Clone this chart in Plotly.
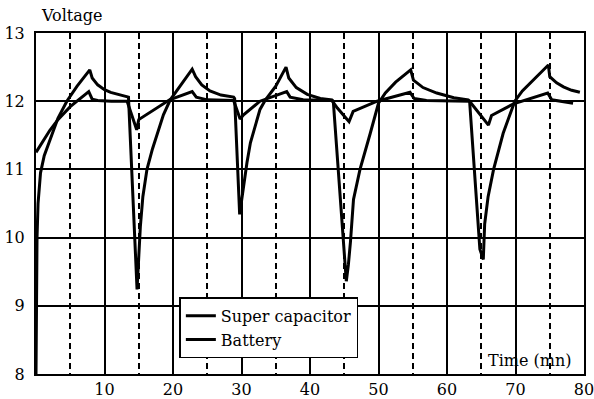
import plotly.graph_objects as go

# Time (min) / Voltage (V) for the super-capacitor assisted curve (large swings)
sc_time = [0, 0.05, 0.15, 0.3, 0.66, 1.2, 2.1, 3.2, 4.5, 6.0, 7.85,
           8.2, 9.0, 10.0, 10.9, 12.0, 13.3, 13.5,
           14.75, 15.0, 15.24, 15.6, 16.2, 17.0, 17.7, 18.6, 19.6, 20.5, 21.5, 22.8,
           23.3, 24.2, 25.4, 27.0, 28.85, 29.0,
           29.73, 30.0, 30.3, 30.8, 31.3, 32.0, 32.7, 33.5, 35.0, 36.5,
           36.9, 38.0, 39.6, 41.5, 43.2, 43.4,
           45.3, 45.6, 45.9, 46.35, 47.3, 48.8, 50.0, 51.0, 52.5, 54.7,
           55.1, 56.5, 58.5, 61.0, 63.1, 63.3,
           64.8, 65.3, 65.5, 66.0, 66.8, 68.2, 69.9, 71.0, 72.5, 74.8,
           75.0, 76.0, 77.0, 78.2, 79.4]
sc_volt = [8.0, 9.0, 10.0, 10.5, 10.95, 11.2, 11.45, 11.75, 12.0, 12.22, 12.46,
           12.34, 12.24, 12.17, 12.13, 12.1, 12.07, 12.06,
           9.24, 9.75, 10.17, 10.6, 11.0, 11.3, 11.53, 11.8, 12.02, 12.15, 12.3, 12.47,
           12.36, 12.24, 12.15, 12.09, 12.06, 12.04,
           10.34, 10.55, 10.75, 11.1, 11.39, 11.65, 11.88, 12.02, 12.22, 12.5,
           12.34, 12.2, 12.1, 12.04, 12.02, 12.0,
           9.36, 9.6, 9.93, 10.56, 11.0, 11.53, 11.97, 12.12, 12.28, 12.46,
           12.31, 12.2, 12.12, 12.05, 12.02, 12.0,
           9.83, 9.68, 10.2, 10.6, 11.0, 11.53, 12.0, 12.15, 12.3, 12.53,
           12.36, 12.27, 12.21, 12.16, 12.13]

# Battery curve (small swings)
bat_time = [0, 1, 2, 3.2, 5, 7.7, 8.2, 9, 11, 13.3, 13.8, 14.7, 15.0, 19.5, 22.8,
            23.4, 25, 28.85, 29.8, 30.3, 32.7, 36.6, 37.1, 39, 43.2, 44.0, 45.7,
            46.3, 49.8, 54.6, 55.2, 57, 63.3, 64.2, 66.05, 66.5, 69.7, 74.7, 75.3, 78.4]
bat_volt = [11.25, 11.42, 11.57, 11.73, 11.92, 12.14, 12.03, 12.01, 12.0, 12.0, 11.86,
            11.58, 11.73, 12.02, 12.14, 12.06, 12.02, 12.01, 11.74, 11.8, 12.0, 12.14,
            12.06, 12.02, 12.01, 11.9, 11.7, 11.85, 12.0, 12.13, 12.04, 12.01, 12.0,
            11.88, 11.65, 11.79, 11.96, 12.12, 12.02, 11.97]

x_ticks = [10, 20, 30, 40, 50, 60, 70, 80]
x_dashed = [5, 15, 25, 35, 45, 55, 65, 75]
y_ticks = [8, 9, 10, 11, 12, 13]

FONT = "DejaVu Serif"
FS = 16

fig = go.Figure()
fig.add_trace(go.Scatter(x=sc_time, y=sc_volt, mode="lines", name="Super capacitor",
                         line=dict(color="black", width=3)))
fig.add_trace(go.Scatter(x=bat_time, y=bat_volt, mode="lines", name="Battery",
                         line=dict(color="black", width=3)))

fig.update_layout(
    width=594, height=399,
    margin=dict(l=35.5, r=10, t=33, b=25, autoexpand=False),
    paper_bgcolor="white", plot_bgcolor="white",
    font=dict(family=FONT, size=FS, color="black"),
    showlegend=True,
    legend=dict(x=0.2616, y=0.225, xanchor="left", yanchor="top",
                bgcolor="white", bordercolor="black", borderwidth=1.5,
                font=dict(family=FONT, size=FS), itemwidth=30,
                tracegroupgap=0),
    xaxis=dict(range=[0, 80], tickmode="array", tickvals=x_ticks,
               ticktext=[str(v) for v in x_ticks], automargin=False,
               ticklabeloverflow="allow",
               showgrid=True, gridcolor="black", gridwidth=1.5,
               showline=True, linecolor="black", linewidth=2, mirror=True,
               ticks="", zeroline=False,
               minor=dict(tickmode="array", tickvals=x_dashed, showgrid=True,
                          gridcolor="black", gridwidth=1.5, griddash="6px,4px")),
    yaxis=dict(range=[8, 13], tickmode="array", tickvals=y_ticks, automargin=False,
               showgrid=True, gridcolor="black", gridwidth=1.5,
               showline=True, linecolor="black", linewidth=2, mirror=True,
               ticks="outside", ticklen=6, tickcolor="rgba(0,0,0,0)",
               zeroline=False),
)

fig.add_annotation(text="Voltage", xref="paper", yref="paper", x=0.005, y=1.052,
                   xanchor="left", yanchor="middle", showarrow=False,
                   font=dict(family=FONT, size=FS))
fig.add_annotation(text="Time (mn)", xref="paper", yref="paper", x=0.98, y=0.04,
                   xanchor="right", yanchor="middle", showarrow=False,
                   font=dict(family=FONT, size=FS))

fig.write_html("out.html")
